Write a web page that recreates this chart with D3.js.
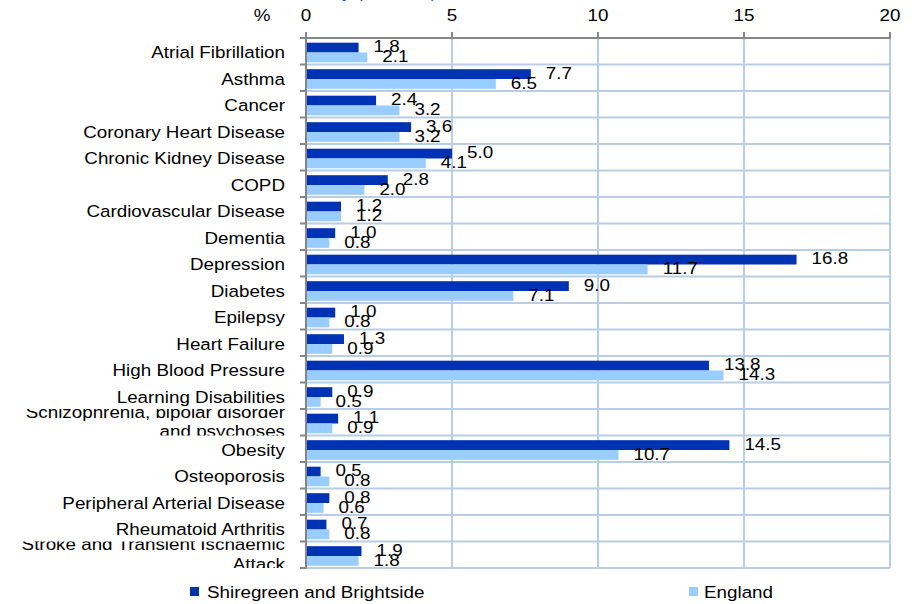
<!DOCTYPE html>
<html>
<head>
<meta charset="utf-8">
<script src="https://cdn.jsdelivr.net/npm/d3@7/dist/d3.min.js"></script>
<style>
  html, body { margin: 0; padding: 0; background: #fff; }
  svg { display: block; }
  text { font-family: "Liberation Sans", Arial, sans-serif; fill: #000; }
</style>
</head>
<body>
<svg id="chart" width="915" height="604"></svg>
<script>
// Long term condition prevalence (%), locality vs England
const categories = [
  "Atrial Fibrillation", "Asthma", "Cancer", "Coronary Heart Disease",
  "Chronic Kidney Disease", "COPD", "Cardiovascular Disease", "Dementia",
  "Depression", "Diabetes", "Epilepsy", "Heart Failure", "High Blood Pressure",
  "Learning Disabilities", "Schizophrenia, bipolar disorder\nand psychoses",
  "Obesity", "Osteoporosis", "Peripheral Arterial Disease",
  "Rheumatoid Arthritis", "Stroke and Transient Ischaemic\nAttack"
];
const shiregreen = [1.8, 7.7, 2.4, 3.6, 5.0, 2.8, 1.2, 1.0, 16.8, 9.0, 1.0, 1.3, 13.8, 0.9, 1.1, 14.5, 0.5, 0.8, 0.7, 1.9];
const england    = [2.1, 6.5, 3.2, 3.2, 4.1, 2.0, 1.2, 0.8, 11.7, 7.1, 0.8, 0.9, 14.3, 0.5, 0.9, 10.7, 0.8, 0.6, 0.8, 1.8];
const xTicks = [0, 5, 10, 15, 20];
const seriesNames = ["Shiregreen and Brightside", "England"];
const seriesColors = ["#0032b4", "#99ccff"];

const svg = d3.select("#chart");
const FS = 16.5, SX = 1.14;   // font size and horizontal stretch of text

function label(g, x, y, str, anchor) {
  return g.append("text")
    .attr("transform", `translate(${x},${y}) scale(${SX},1)`)
    .attr("text-anchor", anchor || "start")
    .style("font-size", FS + "px")
    .text(str);
}

const plot = { left: 306, right: 890, top: 38, bottom: 568 };

const x = d3.scaleLinear().domain([0, 20]).range([plot.left, plot.right]);
const y = d3.scaleBand().domain(d3.range(categories.length)).range([plot.top, plot.bottom]).padding(0);
const bw = y.bandwidth();
const ySeries = d3.scaleBand().domain([0, 1]).range([0.177 * bw, 0.917 * bw]).padding(0);

// title (mostly above the visible area)
svg.append("text")
  .attr("transform", `translate(437,-2) scale(${SX},1)`)
  .attr("text-anchor", "end")
  .style("font-size", FS + "px")
  .style("fill", "#2a4cc4")
  .text("Disease Prevalence for Locality (Practice)");

// grid
const grid = svg.append("g").attr("stroke", "#b9cde5").attr("stroke-width", 2);
xTicks.slice(1).forEach(t => {
  grid.append("line").attr("x1", x(t)).attr("x2", x(t)).attr("y1", plot.top).attr("y2", plot.bottom);
});
d3.range(1, categories.length + 1).forEach(i => {
  const yy = i < categories.length ? y(i) : plot.bottom;
  grid.append("line").attr("x1", plot.left).attr("x2", plot.right).attr("y1", yy).attr("y2", yy);
});

// bars
const series = [shiregreen, england];
series.forEach((vals, s) => {
  svg.append("g").selectAll("rect").data(vals).join("rect")
    .attr("x", x(0))
    .attr("y", (d, i) => y(i) + ySeries(s))
    .attr("width", d => x(d) - x(0))
    .attr("height", ySeries.bandwidth())
    .attr("fill", seriesColors[s]);
});

// value labels
const vl = svg.append("g");
series.forEach((vals, s) => {
  vals.forEach((v, i) => {
    label(vl, x(v) + 15, y(i) + ySeries(s) + ySeries.bandwidth(), v.toFixed(1));
  });
});

// axes
const axisColor = "#868686";
const ax = svg.append("g").attr("stroke", axisColor).attr("stroke-width", 2);
ax.append("line").attr("x1", plot.left).attr("x2", plot.right + 1).attr("y1", plot.top).attr("y2", plot.top);
xTicks.forEach(t => {
  ax.append("line").attr("x1", x(t)).attr("x2", x(t)).attr("y1", plot.top - 6).attr("y2", plot.top);
});
ax.append("line").attr("x1", plot.left).attr("x2", plot.left).attr("y1", plot.top).attr("y2", plot.bottom + 1);
d3.range(0, categories.length + 1).forEach(i => {
  const yy = i < categories.length ? y(i) : plot.bottom;
  ax.append("line").attr("x1", plot.left - 6).attr("x2", plot.left).attr("y1", yy).attr("y2", yy);
});

const tl = svg.append("g");
xTicks.forEach(t => label(tl, x(t), 21, String(t), "middle"));
label(tl, 262, 21, "%", "middle");

// category labels, each clipped to its own row
const defs = svg.append("defs");
const cl = svg.append("g");
categories.forEach((c, i) => {
  const id = "row" + i;
  defs.append("clipPath").attr("id", id).append("rect")
    .attr("x", 0).attr("y", y(i)).attr("width", plot.left - 8).attr("height", bw);
  const g = cl.append("g").attr("clip-path", `url(#${id})`);
  const lines = c.split("\n");
  const mid = y(i) + ySeries(0) + ySeries.bandwidth();
  if (lines.length === 1) {
    label(g, 285, mid + 6, lines[0], "end");
  } else {
    label(g, 285, y(i) + 8.5, lines[0], "end");
    label(g, 285, y(i) + 28.2, lines[1], "end");
  }
});

// legend
const lg = svg.append("g");
lg.append("rect").attr("x", 190).attr("y", 587).attr("width", 9).attr("height", 9).attr("fill", seriesColors[0]);
label(lg, 207, 598, seriesNames[0]);
lg.append("rect").attr("x", 689).attr("y", 587).attr("width", 9).attr("height", 9).attr("fill", seriesColors[1]);
label(lg, 704, 598, seriesNames[1]);
</script>
</body>
</html>
